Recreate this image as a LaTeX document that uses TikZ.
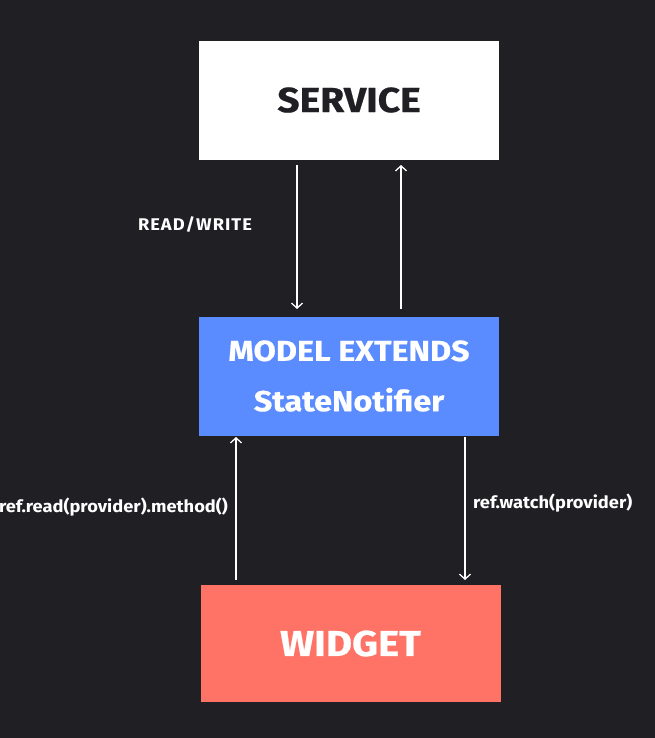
\documentclass[tikz,border=0pt]{standalone}
\usepackage{fontspec}
\setmainfont{Fira Sans}
\newfontfamily\boxfont{Fira Sans}[FakeStretch=1.12, FakeBold=0.6]
\newfontfamily\lblfont{Fira Sans}[FakeStretch=1.08]
\usetikzlibrary{arrows.meta}
\definecolor{bg}{HTML}{1F1F24}
\definecolor{svc}{HTML}{FFFFFF}
\definecolor{mdl}{HTML}{5A8CFF}
\definecolor{wdg}{HTML}{FF7366}
\tikzset{
  x=1bp, y=-1bp,
  box/.style={minimum width=300bp, minimum height=119bp, inner sep=0pt, draw=none},
  conn/.style={draw=white, line width=1.3bp, -{Straight Barb[length=5bp,width=11bp,line width=1.3bp]}},
  lbl/.style={text=white, font=\lblfont\fontsize{17}{19}\selectfont\bfseries, inner sep=0pt},
}
\begin{document}
\begin{tikzpicture}
\fill[bg] (0,0) rectangle (655,738);
\useasboundingbox (0,0) rectangle (655,738);
\node[box, fill=svc, text=bg, font=\boxfont\fontsize{35}{36}\selectfont\bfseries] (service) at (349,100.5) {\raisebox{1.5bp}{SERVICE}};
\node[box, fill=mdl, text=white, font=\boxfont\fontsize{29}{49}\selectfont\bfseries, align=center] (model) at (349,376) {\raisebox{1.5bp}{MODEL EXTENDS}\\StateNotifier};
\node[box, minimum height=117bp, fill=wdg, text=white, font=\boxfont\fontsize{36}{36}\selectfont\bfseries] (widget) at (350.5,643.5) {\raisebox{-3bp}{WIDGET}};
\coordinate (s1) at (297,165);
\coordinate (m1) at (297,309);
\coordinate (s2) at (401,165);
\coordinate (m2) at (401,309);
\coordinate (m3) at (236,437);
\coordinate (w3) at (236,580);
\coordinate (m4) at (465,437);
\coordinate (w4) at (465,580);
\draw[conn] (s1) -- (m1);
\draw[conn] (m2) -- (s2);
\draw[conn] (w3) -- (m3);
\draw[conn] (m4) -- (w4);
\node[lbl] (rw) at (195,225) {\addfontfeatures{LetterSpace=6}READ/WRITE};
\node[lbl, anchor=east] (rd) at (228,507) {ref.read(provider).method()};
\node[lbl, anchor=west] (wt) at (473,503) {ref.watch(provider)};
\end{tikzpicture}
\end{document}
